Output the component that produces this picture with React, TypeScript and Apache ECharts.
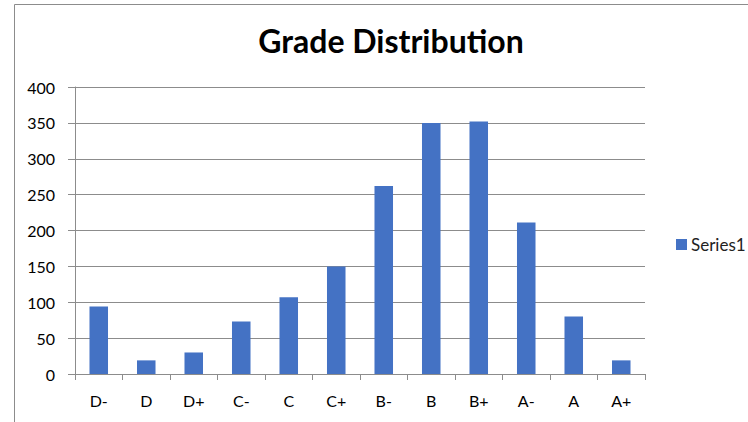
import React, { useEffect, useRef } from "react";
import * as echarts from "echarts";

const categories = ["D-", "D", "D+", "C-", "C", "C+", "B-", "B", "B+", "A-", "A", "A+"];
const series1 = [94, 19, 30, 73, 107, 150, 262, 350, 352, 211, 80, 19];
const seriesName = "Series1";
const titleText = "Grade Distribution";

export default function App() {
  const ref = useRef<HTMLDivElement>(null);
  useEffect(() => {
    document.body.style.margin = "0";
    const chart = echarts.init(ref.current!, null, { renderer: "svg" });
    const font = "Lato";
    chart.setOption({
      animation: false,
      backgroundColor: "#ffffff",
      title: {
        text: titleText,
        left: 391,
        textAlign: "center",
        top: 24,
        padding: 0,
        textStyle: { fontFamily: font, fontWeight: "bold", fontSize: 32, color: "#000000" },
      },
      graphic: [
        {
          type: "rect",
          shape: { x: 14.5, y: 4.5, width: 760, height: 440 },
          style: { fill: "none", stroke: "#8c8c8c", lineWidth: 1 },
          silent: true,
        },
      ],
      legend: {
        data: [seriesName],
        left: 676,
        top: 236,
        padding: 0,
        itemWidth: 11,
        itemHeight: 11,
        itemGap: 4,
        icon: "rect",
        textStyle: { fontFamily: font, fontSize: 17, color: "#222222", padding: [0, 0, 0, -1] },
      },
      grid: { left: 75, right: 103, top: 87, bottom: 48, containLabel: false },
      xAxis: {
        type: "category",
        data: categories,
        boundaryGap: true,
        axisLine: { lineStyle: { color: "#8c8c8c", width: 1 } },
        axisTick: { show: true, length: 6, inside: false, lineStyle: { color: "#8c8c8c" } },
        axisLabel: { fontFamily: font, fontSize: 16, color: "#000000", margin: 18 },
        splitLine: { show: false },
      },
      yAxis: {
        type: "value",
        min: 0,
        max: 400,
        interval: 50,
        axisLine: { show: true, lineStyle: { color: "#8c8c8c", width: 1 } },
        axisTick: { show: true, length: 7, lineStyle: { color: "#8c8c8c" } },
        axisLabel: { fontFamily: font, fontSize: 16, color: "#000000", margin: 20 },
        splitLine: { show: true, lineStyle: { color: "#8c8c8c", width: 1 } },
      },
      series: [
        {
          name: seriesName,
          type: "bar",
          data: series1,
          barWidth: "39%",
          itemStyle: { color: "#4472C4" },
        },
      ],
    });
    return () => chart.dispose();
  }, []);
  return <div ref={ref} style={{ width: 748, height: 422, position: "absolute", left: 0, top: 0 }} />;
}
